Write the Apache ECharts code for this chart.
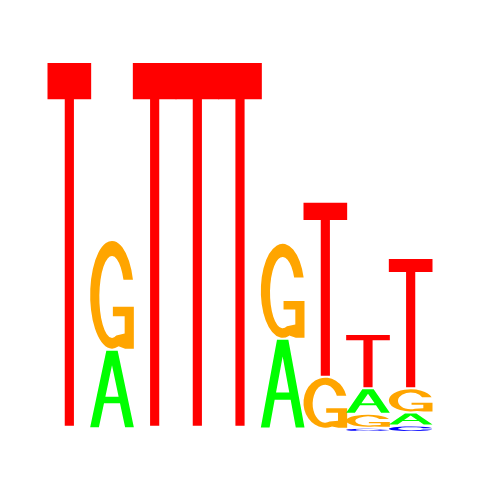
<html>
<head>
    <meta charset="utf-8">
    <script src="https://cdn.jsdelivr.net/npm/echarts@6/dist/echarts.min.js"></script>
    <style>
        html, body { margin: 0; padding: 0; background: #fff; }
        #main { width: 480px; height: 480px; }
    </style>
</head>
<body>
<div id="main"></div>
<script>
    // information content (bits) per position
    var positions = ['1', '2', '3', '4', '5', '6', '7', '8', '9'];
    var letters = ['A', 'C', 'G', 'T'];
    var bitsA = [0.010, 0.425, 0.010, 0.010, 0.010, 0.485, 0.009, 0.137, 0.071];
    var bitsC = [0.010, 0.010, 0.010, 0.010, 0.010, 0.009, 0.009, 0.023, 0.035];
    var bitsG = [0.009, 0.593, 0.009, 0.009, 0.009, 0.519, 0.281, 0.076, 0.130];
    var bitsT = [1.971, 0.010, 1.971, 1.971, 1.971, 0.010, 0.946, 0.294, 0.704];

    var colors = {A: '#00ff00', C: '#0000ff', G: '#ffa500', T: '#ff0000'};

    // glyphs in a 100x100 box, stretched to fill each slot
    var glyphs = {
        A: 'M0 100 L37 0 L63 0 L100 100 L80 100 L68.3 68.5 L31.7 68.5 L20 100 Z ' +
           'M50 19 L34.8 60 L65.2 60 Z',
        C: 'M98 36 A50 50 0 1 0 98 64 L76.7 64 A29 36 0 1 1 76.7 36 Z',
        G: 'M98 36 A50 50 0 1 0 65 97.7 L80 100 L100 100 L100 61 L52 61 L52 70 ' +
           'L79 70 L79 86 L59.9 87.7 A29 38 0 1 1 76.3 36 Z',
        T: 'M0 0 L100 0 L100 10 L60.5 10 L60.5 100 L39.5 100 L39.5 10 L0 10 Z'
    };

    var byLetter = {A: bitsA, C: bitsC, G: bitsG, T: bitsT};

    // stack letters smallest first from the baseline
    var stacks = [];
    positions.forEach(function (p, i) {
        var col = letters.map(function (l) {
            return {letter: l, h: byLetter[l][i]};
        });
        col.sort(function (a, b) { return a.h - b.h; });
        var base = 0;
        col.forEach(function (c) {
            stacks.push([i, base, base + c.h, letters.indexOf(c.letter)]);
            base += c.h;
        });
    });

    var chart = echarts.init(document.getElementById('main'));
    chart.setOption({
        animation: false,
        grid: {left: 48, right: 48, top: 62, bottom: 48},
        xAxis: {type: 'category', data: positions, show: false},
        yAxis: {type: 'value', min: 0, max: 2, show: false},
        series: [{
            type: 'custom',
            data: stacks,
            renderItem: function (params, api) {
                var i = api.value(0);
                var lo = api.coord([i, api.value(1)]);
                var hi = api.coord([i, api.value(2)]);
                var w = api.size([1, 0])[0];
                var h = lo[1] - hi[1];
                if (h < 3) {
                    return;
                }
                var l = letters[api.value(3)];
                // half a pixel of overlap so neighbouring bars join
                return {
                    type: 'path',
                    shape: {
                        pathData: glyphs[l],
                        x: lo[0] - w / 2 - 0.5,
                        y: hi[1] + 1,
                        width: w + 1,
                        height: h - 2,
                        layout: 'cover'
                    },
                    style: {fill: colors[l]}
                };
            }
        }]
    });
</script>
</body>
</html>
